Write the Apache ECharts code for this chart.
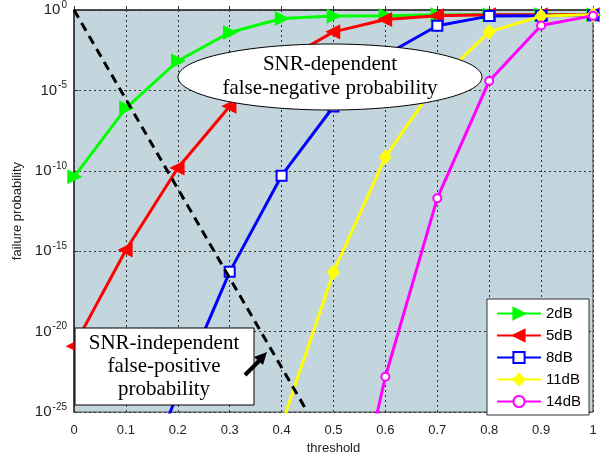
<!doctype html>
<html>
<head>
    <meta charset="UTF-8" />
    <title>failure probability vs threshold</title>
    <style>
        html, body { margin: 0; padding: 0; background: #fff; }
        #chart { width: 606px; height: 460px; }
    </style>
</head>
<body>
    <div id="chart"></div>
    <script src="https://cdn.jsdelivr.net/npm/echarts@6/dist/echarts.min.js"></script>
    <script>
        // thresholds on the x axis
        var thresholds = [0, 0.1, 0.2, 0.3, 0.4, 0.5, 0.6, 0.7, 0.8, 0.9, 1];
        var seriesNames = ['2dB', '5dB', '8dB', '11dB', '14dB'];

        // failure probability per threshold, as log10 exponents
        var e2dB = [-10.37, -6.1, -3.17, -1.4, -0.53, -0.38, -0.35, -0.3, -0.3, -0.3, -0.3];
        var e5dB = [-20.9, -14.92, -9.82, -5.98, -3.2, -1.36, -0.59, -0.35, -0.3, -0.3, -0.3];
        var e8dB = [-40, -32, -23.8, -16.28, -10.3, -6.0, -2.8, -0.98, -0.38, -0.35, -0.33];
        var e11dB = [null, null, null, -36, -25.8, -16.3, -9.15, -4.45, -1.36, -0.38, -0.3];
        var e14dB = [null, null, null, null, null, -37, -22.8, -11.7, -4.41, -0.96, -0.35];

        // SNR-independent false-positive curve (straight line in log space)
        var fpX = [0, 0.45];
        var fpE = [0, -25];

        // y axis: decades 10^-25 .. 10^0
        var yMinExp = -25;
        var yMaxExp = 0;
        var yStepExp = 5;

        function pairs(xs, ys) {
            var out = [];
            for (var i = 0; i < xs.length; i++) {
                if (ys[i] != null) out.push([xs[i], ys[i]]);
            }
            return out;
        }

        var chart = echarts.init(document.getElementById('chart'));

        var styles = [
            { color: '#00ff00', symbol: 'triangle', rotate: -90, size: 11 },
            { color: '#ff0000', symbol: 'triangle', rotate: 90, size: 11 },
            { color: '#0000ff', symbol: 'emptyRect', rotate: 0, size: 10 },
            { color: '#ffff00', symbol: 'diamond', rotate: 0, size: [10, 12] },
            { color: '#ff00ff', symbol: 'emptyCircle', rotate: 0, size: 8 }
        ];
        var values = [e2dB, e5dB, e8dB, e11dB, e14dB];

        var series = seriesNames.map(function (name, i) {
            var s = styles[i];
            return {
                name: name,
                type: 'line',
                data: pairs(thresholds, values[i]),
                symbol: s.symbol,
                symbolSize: s.size,
                symbolRotate: s.rotate,
                showAllSymbol: true,
                clip: true,
                lineStyle: { color: s.color, width: 3 },
                itemStyle: { color: s.color, borderColor: s.color, borderWidth: 2.5 },
                emphasis: { disabled: true },
                z: 2 + i
            };
        });

        series.push({
            name: 'false-positive',
            type: 'line',
            data: pairs(fpX, fpE),
            symbol: 'none',
            clip: true,
            lineStyle: { color: '#000', width: 3, type: [9, 6] },
            emphasis: { disabled: true },
            z: 10
        });

        var sans = 'Liberation Sans';

        var option = {
            animation: false,
            grid: {
                left: 74, right: 13, top: 7, bottom: 43,
                show: true,
                backgroundColor: '#c3d6dd',
                borderColor: '#333',
                borderWidth: 1
            },
            legend: {
                data: seriesNames,
                orient: 'vertical',
                left: 487,
                top: 299,
                padding: [7, 8, 6, 9],
                itemWidth: 44,
                itemHeight: 14,
                itemGap: 7,
                backgroundColor: '#fff',
                borderColor: '#333',
                borderWidth: 1,
                textStyle: { fontFamily: sans, fontSize: 15, color: '#000' }
            },
            xAxis: {
                type: 'value',
                min: 0,
                max: 1,
                interval: 0.1,
                name: 'threshold',
                nameLocation: 'middle',
                nameGap: 28,
                nameTextStyle: { fontFamily: sans, fontSize: 13, color: '#222' },
                axisLine: { show: true, lineStyle: { color: '#333', width: 1.5 } },
                axisTick: { show: true, inside: true, length: 4, lineStyle: { color: '#333' } },
                axisLabel: {
                    margin: 12,
                    fontFamily: sans, fontSize: 13, color: '#222',
                    formatter: function (v) { return v === 0 || v === 1 ? String(v) : v.toFixed(1); }
                },
                splitLine: { show: true, lineStyle: { color: '#333', type: [2, 3], width: 1 } }
            },
            yAxis: {
                type: 'value',
                min: yMinExp,
                max: yMaxExp,
                interval: yStepExp,
                name: 'failure probability',
                nameLocation: 'middle',
                nameGap: 39,
                nameTextStyle: { fontFamily: sans, fontSize: 13, color: '#222' },
                axisLine: { show: true, lineStyle: { color: '#333', width: 1.5 } },
                axisTick: { show: true, inside: true, length: 4, lineStyle: { color: '#333' } },
                axisLabel: {
                    margin: 7,
                    formatter: function (v) {
                        return '{b|10}{s|' + Math.round(v) + '}';
                    },
                    rich: {
                        b: { fontFamily: sans, fontSize: 15, color: '#222' },
                        s: { fontFamily: sans, fontSize: 10, color: '#222', padding: [0, 0, 10, 1] }
                    }
                },
                splitLine: { show: true, lineStyle: { color: '#333', type: [2, 3], width: 1 } }
            },
            graphic: [
                {
                    type: 'ellipse',
                    z: 100,
                    shape: { cx: 330, cy: 77, rx: 152, ry: 33 },
                    style: { fill: '#fff', stroke: '#000', lineWidth: 1 }
                },
                {
                    type: 'text',
                    z: 101,
                    x: 330,
                    y: 76,
                    style: {
                        text: 'SNR-dependent\nfalse-negative probability',
                        font: '21px "Liberation Serif"',
                        fill: '#000',
                        align: 'center',
                        verticalAlign: 'middle',
                        lineHeight: 24
                    }
                },
                {
                    type: 'rect',
                    z: 100,
                    shape: { x: 75, y: 328, width: 179, height: 77 },
                    style: { fill: '#fff', stroke: '#000', lineWidth: 1 }
                },
                {
                    type: 'text',
                    z: 101,
                    x: 164,
                    y: 366,
                    style: {
                        text: 'SNR-independent\nfalse-positive\nprobability',
                        font: '21px "Liberation Serif"',
                        fill: '#000',
                        align: 'center',
                        verticalAlign: 'middle',
                        lineHeight: 23
                    }
                },
                {
                    type: 'line',
                    z: 102,
                    shape: { x1: 245, y1: 375, x2: 259, y2: 361 },
                    style: { stroke: '#000', lineWidth: 4 }
                },
                {
                    type: 'polygon',
                    z: 102,
                    shape: { points: [[267, 352], [263, 365], [254, 357]] },
                    style: { fill: '#000' }
                }
            ],
            series: series
        };

        chart.setOption(option);
    </script>
</body>
</html>
